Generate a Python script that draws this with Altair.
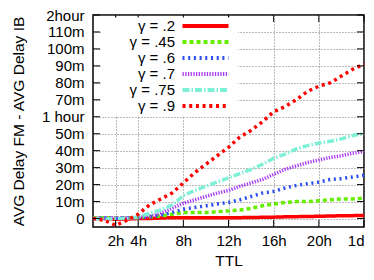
import altair as alt
import pandas as pd

# ---- data ----
hours = list(range(25))
series = ["γ = .2", "γ = .45", "γ = .6", "γ = .7", "γ = .75", "γ = .9"]

g_20 = [0, 0, -0.5, -0.3, 0, 0, 0.3, 0.5, 0.5, 0.5, 0.5, 0.5, 0.5, 0.5, 0.6, 0.7, 0.8, 1.0, 1.1, 1.2, 1.3, 1.5, 1.6, 1.7, 1.8]
g_45 = [0.5, 0.5, 0.5, 0.5, 0.5, 1, 1.5, 2.5, 3.5, 3.5, 3.5, 4, 4.5, 5, 6, 7.5, 8.5, 9.5, 10, 10, 10.5, 11, 11.5, 11.5, 12]
g_60 = [0, 0.5, 0, 0.5, 0.5, 1, 2, 3.5, 5.5, 6.5, 7.5, 8.5, 9.5, 11, 13, 15, 16, 18, 19.5, 20.5, 21.5, 23, 23.5, 24.5, 25.5]
g_70 = [0, 0, 0.5, 0.5, 0.5, 1.5, 3, 6, 9, 11, 13, 15, 16.5, 19, 21, 23, 26, 29, 31, 33, 34.5, 36, 37, 38.5, 39.5]
g_75 = [0, -0.5, 0, 0, 1, 3, 5, 8, 13.5, 16.5, 19, 21.5, 24, 26.5, 29, 32, 35.5, 38, 41, 43, 44.5, 45.5, 47, 49, 50]
g_90 = [0, -1, -4, -1, 2.5, 8, 11.5, 15, 21, 27, 32, 37, 42, 48, 52, 57, 63, 66, 70, 75, 78, 80, 84, 88, 91]

colors = ["#ff0000", "#66ee00", "#2a4cf0", "#a83cf0", "#7ff0d8", "#ff0000"]
dashes = [[1, 0], [4, 3], [2, 3.7], [1.3, 1.4], [7, 2, 1.5, 2], [3, 3.7]]

x_ticks = [2, 4, 8, 12, 16, 20, 24]
y_ticks = [0, 10, 20, 30, 40, 50, 60, 70, 80, 90, 100, 110, 120]

# ---- tables ----
rows = []
for name, vals in zip(series, [g_20, g_45, g_60, g_70, g_75, g_90]):
    for h, v in zip(hours, vals):
        rows.append({"hour": h, "value": v, "series": name})
df = pd.DataFrame(rows)
xt = pd.DataFrame({"hour": x_ticks})
yt = pd.DataFrame({"value": y_ticks})

W, H = 271, 212
FONT = "Liberation Sans"

xscale = alt.Scale(domain=[0, 24], nice=False, zero=False)
yscale = alt.Scale(domain=[-5, 120], nice=False, zero=False)

xaxis = alt.Axis(values=x_ticks, labelOverlap=False,
                 labelExpr="datum.value == 24 ? '1d' : datum.value + 'h'",
                 labelPadding=6, titlePadding=5)
yaxis = alt.Axis(values=y_ticks, labelOverlap=False, labelBound=False,
                 labelExpr="datum.value == 0 ? '0' : datum.value == 60 ? '1 hour' : datum.value == 120 ? '2hour' : datum.value + 'm'",
                 labelPadding=9, titlePadding=15)
XT, YT = "TTL", "AVG Delay FM - AVG Delay IB"

leg = alt.Legend(title=None)

lines = alt.Chart(df).mark_line(strokeWidth=3.5).encode(
    x=alt.X("hour:Q", scale=xscale, title=XT, axis=xaxis),
    y=alt.Y("value:Q", scale=yscale, title=YT, axis=yaxis),
    color=alt.Color("series:N", scale=alt.Scale(domain=series, range=colors), sort=series, legend=leg),
    strokeDash=alt.StrokeDash("series:N", scale=alt.Scale(domain=series, range=dashes), sort=series, legend=leg),
)

tick_style = dict(color="black", strokeWidth=1)
xt_bottom = alt.Chart(xt).mark_rule(**tick_style).encode(x=alt.X("hour:Q", scale=xscale, title=XT, axis=xaxis), y=alt.value(H - 7), y2=alt.value(H))
xt_top = alt.Chart(xt).mark_rule(**tick_style).encode(x=alt.X("hour:Q", scale=xscale, title=XT, axis=xaxis), y=alt.value(0), y2=alt.value(7))
yt_left = alt.Chart(yt).mark_rule(**tick_style).encode(y=alt.Y("value:Q", scale=yscale, title=YT, axis=yaxis), x=alt.value(0), x2=alt.value(7))
yt_right = alt.Chart(yt).mark_rule(**tick_style).encode(y=alt.Y("value:Q", scale=yscale, title=YT, axis=yaxis), x=alt.value(W - 7), x2=alt.value(W))

chart = alt.layer(lines, xt_bottom, xt_top, yt_left, yt_right).properties(
    width=W, height=H,
    autosize=alt.AutoSizeParams(type="none"),
    padding={"left": 85, "top": 7, "right": 2, "bottom": 45},
).configure_view(
    stroke="black", strokeWidth=1.5
).configure_axis(
    labelFont=FONT, labelFontSize=15, labelColor="black", labelOverlap=False,
    titleFont=FONT, titleFontSize=15.5, titleFontWeight="normal", titleColor="black",
    domain=False, ticks=False, tickSize=0,
    grid=True, gridColor="#777777", gridDash=[1, 2], gridWidth=1, gridOpacity=1,
).configure_legend(
    zindex=1, orient="none", legendX=9, legendY=2.5, fillColor="white",
    padding=1, symbolType="M-4.6,0H4.6", symbolSize=100, symbolStrokeWidth=4,
    rowPadding={"expr": "-1.2"}, symbolOffset=95, labelOffset={"expr": "-38"},
    labelAlign="right", labelFont=FONT, labelFontSize=15, labelColor="black",
    labelLimit=0,
)

chart.save("out.html", embed_options={"renderer": "svg", "actions": False})
